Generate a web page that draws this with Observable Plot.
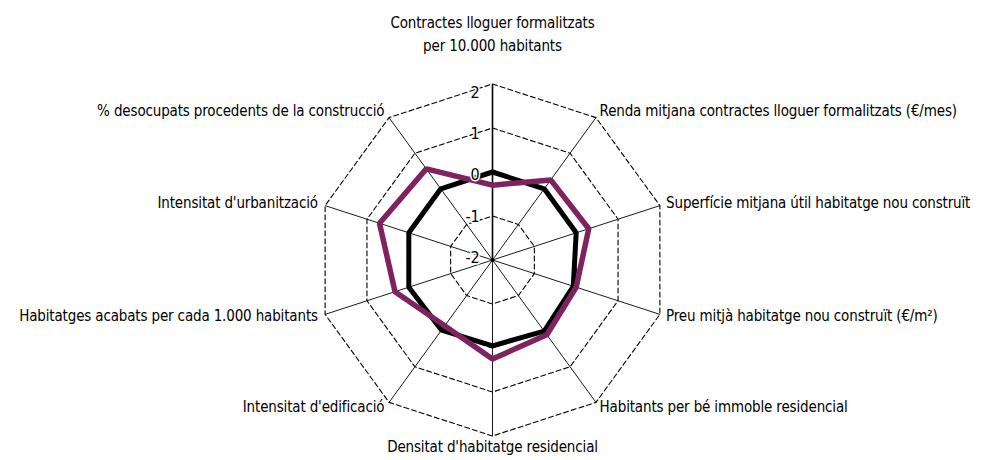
<!DOCTYPE html>
<html><head><meta charset="utf-8">
<script src="https://cdn.jsdelivr.net/npm/d3@7"></script>
<script src="https://cdn.jsdelivr.net/npm/@observablehq/plot@0.6"></script>
<style>
body{margin:0;background:#fff}
#chart svg{font-family:"Liberation Sans Narrow","DejaVu Sans Condensed","Roboto Condensed",sans-serif;font-stretch:condensed}
#chart svg g[aria-label="text"] text{letter-spacing:-0.15px}
</style>
</head><body><div id="chart"></div>
<script>
const axes = [
  "Contractes lloguer formalitzats\nper 10.000 habitants",
  "Renda mitjana contractes lloguer formalitzats (€/mes)",
  "Superfície mitjana útil habitatge nou construït",
  "Preu mitjà habitatge nou construït (€/m²)",
  "Habitants per bé immoble residencial",
  "Densitat d'habitatge residencial",
  "Intensitat d'edificació",
  "Habitatges acabats per cada 1.000 habitants",
  "Intensitat d'urbanització",
  "% desocupats procedents de la construcció"
];
const seriesBlack = [0.0, 0.0, 0.0, -0.07, 0.0, -0.05, -0.03, 0.0, 0.0, 0.0];
const seriesPurple = [-0.3, 0.25, 0.3, 0.0, 0.1, 0.25, -0.15, 0.33, 0.7, 0.56];
const levels = [-2, -1, 0, 1, 2];
const tickLabels = ["-2", "-1", "0", "1", "2"];

const vmin = -2, vmax = 2;
const n = axes.length;
const ang = i => 2 * Math.PI * i / n;
const rad = v => (v - vmin) / (vmax - vmin);
const X = (i, r) => r * Math.sin(ang(i));
const Y = (i, r) => r * Math.cos(ang(i));

const ringData = levels.filter(l => l > vmin).flatMap(l => axes.map((a, i) => ({level: l, i})));
const spokeData = axes.map((a, i) => ({i}));
const mk = vals => vals.map((v, i) => ({i, v}));
const labelData = axes.map((a, i) => ({i, a}));
const tickData = levels.map((l, k) => ({l, t: tickLabels[k]}));

const lr = 1.04;
const cosA = i => Math.cos(ang(i));
const FS = 15;
const sideDy = d => Math.abs(cosA(d.i)) < 0.5 ? -3.5 - 5 * cosA(d.i) : 0;

const chart = Plot.plot({
  width: 982, height: 460,
  marginTop: 0, marginRight: 0, marginBottom: 0, marginLeft: 0,
  x: {domain: [-1, 1], range: [316, 668], axis: null},
  y: {domain: [-1, 1], range: [435.5, 83.5], axis: null},
  style: {fontSize: FS + "px", background: "#fff"},
  marks: [
    Plot.line(ringData, {
      x: d => X(d.i, rad(d.level)), y: d => Y(d.i, rad(d.level)), z: "level",
      curve: "linear-closed", stroke: "#000", strokeWidth: 1.1, strokeDasharray: "5,3"
    }),
    Plot.link(spokeData, {
      x1: 0, y1: 0, x2: d => X(d.i, 1), y2: d => Y(d.i, 1),
      stroke: "#000", strokeWidth: d => d.i === 0 ? 1.6 : 0.9
    }),
    Plot.dot([0], {x: 0, y: 0, r: 2, fill: "#000"}),
    Plot.line(mk(seriesBlack), {
      x: d => X(d.i, rad(d.v)), y: d => Y(d.i, rad(d.v)),
      curve: "linear-closed", stroke: "#000", strokeWidth: 5, strokeLinejoin: "miter"
    }),
    Plot.line(mk(seriesPurple), {
      x: d => X(d.i, rad(d.v)), y: d => Y(d.i, rad(d.v)),
      curve: "linear-closed", stroke: "#7e2260", strokeWidth: 5.5, strokeLinejoin: "miter"
    }),
    Plot.text(tickData, {
      x: 0, y: d => rad(d.l) * 0.94 + 0.012, text: "t",
      textAnchor: "end", dx: -13, fill: "#000",
      stroke: "#fff", strokeWidth: 3, fontSize: 16
    }),
    Plot.text(labelData.filter(d => d.i > 0 && d.i < n / 2), {
      x: d => X(d.i, lr), y: d => Y(d.i, lr), text: "a",
      textAnchor: "start", lineAnchor: "middle", dy: sideDy, dx: 2, fill: "#000", fontSize: FS
    }),
    Plot.text(labelData.filter(d => d.i > n / 2), {
      x: d => X(d.i, lr), y: d => Y(d.i, lr), text: "a",
      textAnchor: "end", lineAnchor: "middle", dy: sideDy, dx: -1, fill: "#000", fontSize: FS
    }),
    Plot.text(labelData.filter(d => d.i === n / 2), {
      x: d => X(d.i, lr), y: d => Y(d.i, lr), text: "a",
      textAnchor: "middle", lineAnchor: "top", dy: -2, fill: "#000", fontSize: FS
    }),
    Plot.text(labelData.filter(d => d.i === 0), {
      x: d => X(d.i, lr), y: d => Y(d.i, lr), text: "a",
      textAnchor: "middle", lineAnchor: "bottom", dy: -26, lineHeight: 1.55, fill: "#000", fontSize: FS
    })
  ]
});
document.getElementById("chart").append(chart);
</script>
</body></html>
